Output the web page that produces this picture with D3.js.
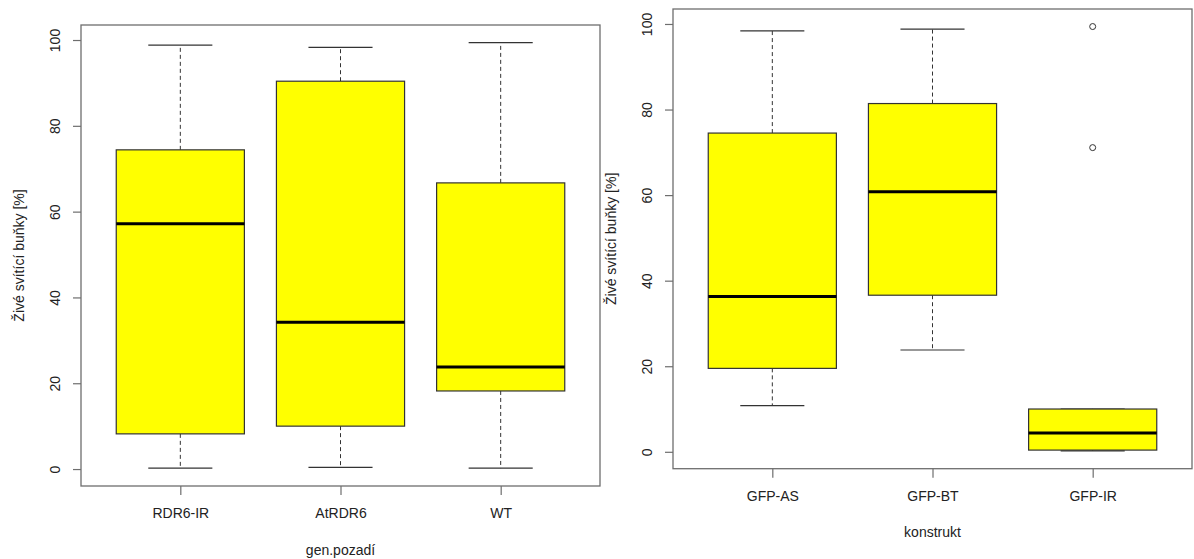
<!DOCTYPE html>
<html>
<head>
<meta charset="utf-8">
<script src="https://cdn.jsdelivr.net/npm/d3@7"></script>
<style>
  html, body { margin: 0; padding: 0; background: #fff; }
  svg { display: block; font-family: "Liberation Sans", Arial, sans-serif; }
</style>
</head>
<body>
<svg id="chart" width="1194" height="559"></svg>
<script>
// ---- data ----
const leftCategories = ["RDR6-IR", "AtRDR6", "WT"];
const leftLow    = [0.2, 0.4, 0.2];
const leftQ1     = [8.2, 10.0, 18.2];
const leftMedian = [57.2, 34.2, 23.8];
const leftQ3     = [74.4, 90.4, 66.7];
const leftHigh   = [98.8, 98.3, 99.4];
const leftOutliers = [[], [], []];

const rightCategories = ["GFP-AS", "GFP-BT", "GFP-IR"];
const rightLow    = [10.8, 23.8, 0.2];
const rightQ1     = [19.5, 36.6, 0.4];
const rightMedian = [36.3, 60.8, 4.4];
const rightQ3     = [74.5, 81.4, 10.0];
const rightHigh   = [98.4, 98.8, 10.0];
const rightOutliers = [[], [], [99.4, 71.1]];

const yTicks = [0, 20, 40, 60, 80, 100];
const yTitle = "Živé svítící buňky [%]";
const leftXTitle = "gen.pozadí";
const rightXTitle = "konstrukt";

// ---- drawing ----
const svg = d3.select("#chart");
const textColor = "#222";
const frameColor = "#6e6e6e";
const lineColor = "#333";

function panel(cfg) {
  const {left, right, top, bottom, cats, low, q1, med, q3, high, outs,
         tickLabelY, xTitleY, yTitleX, xTitle} = cfg;
  const g = svg.append("g");
  const x = d3.scaleLinear().domain([0.38, 3.62]).range([left, right]);
  const y = d3.scaleLinear().domain([-3.95, 103.5]).range([bottom, top]);

  const data = cats.map((c, i) => ({c, i: i + 1, low: low[i], q1: q1[i], med: med[i], q3: q3[i], high: high[i], outs: outs[i]}));
  const bw = 0.4, sw = 0.2;

  const bx = g.selectAll("g.box").data(data).join("g").attr("class", "box");
  // whiskers (dashed)
  bx.append("line")
    .attr("x1", d => x(d.i)).attr("x2", d => x(d.i))
    .attr("y1", d => y(d.q3)).attr("y2", d => y(d.high))
    .attr("stroke", lineColor).attr("stroke-dasharray", "4,3").attr("stroke-width", 1);
  bx.append("line")
    .attr("x1", d => x(d.i)).attr("x2", d => x(d.i))
    .attr("y1", d => y(d.q1)).attr("y2", d => y(d.low))
    .attr("stroke", lineColor).attr("stroke-dasharray", "4,3").attr("stroke-width", 1);
  // staples
  bx.append("line")
    .attr("x1", d => x(d.i - sw)).attr("x2", d => x(d.i + sw))
    .attr("y1", d => y(d.high)).attr("y2", d => y(d.high))
    .attr("stroke", lineColor).attr("stroke-width", 1.2);
  bx.append("line")
    .attr("x1", d => x(d.i - sw)).attr("x2", d => x(d.i + sw))
    .attr("y1", d => y(d.low)).attr("y2", d => y(d.low))
    .attr("stroke", lineColor).attr("stroke-width", 1.2);
  // box
  bx.append("rect")
    .attr("x", d => x(d.i - bw)).attr("width", d => x(d.i + bw) - x(d.i - bw))
    .attr("y", d => y(d.q3)).attr("height", d => y(d.q1) - y(d.q3))
    .attr("fill", "#ffff00").attr("stroke", lineColor).attr("stroke-width", 1.2);
  // median
  bx.append("line")
    .attr("x1", d => x(d.i - bw)).attr("x2", d => x(d.i + bw))
    .attr("y1", d => y(d.med)).attr("y2", d => y(d.med))
    .attr("stroke", "#000").attr("stroke-width", 3);
  // outliers
  bx.selectAll("circle").data(d => d.outs.map(v => ({i: d.i, v}))).join("circle")
    .attr("cx", d => x(d.i)).attr("cy", d => y(d.v)).attr("r", 3)
    .attr("fill", "none").attr("stroke", lineColor).attr("stroke-width", 1);

  // frame
  g.append("rect")
    .attr("x", left).attr("y", top).attr("width", right - left).attr("height", bottom - top)
    .attr("fill", "none").attr("stroke", frameColor).attr("stroke-width", 1.3);

  // y axis
  const ya = g.append("g").attr("transform", `translate(${left},0)`)
    .call(d3.axisLeft(y).tickValues(yTicks).tickSize(8).tickFormat(d3.format("d")));
  ya.select(".domain").remove();
  ya.selectAll(".tick line").attr("stroke", frameColor).attr("stroke-width", 1.2);
  ya.selectAll(".tick text")
    .attr("x", 0).attr("y", -26).attr("dy", null)
    .attr("transform", "rotate(-90)")
    .attr("text-anchor", "middle").attr("dominant-baseline", "central")
    .attr("fill", textColor).style("font-size", "14px")
    .style("font-family", "'Liberation Sans', Arial, sans-serif");

  // x axis
  const xa = g.append("g").attr("transform", `translate(0,${bottom})`)
    .call(d3.axisBottom(x).tickValues([1, 2, 3]).tickSize(9).tickFormat(d => cats[d - 1]));
  xa.select(".domain").remove();
  xa.selectAll(".tick line").attr("stroke", frameColor).attr("stroke-width", 1.2);
  xa.selectAll(".tick text")
    .attr("y", tickLabelY - bottom).attr("dy", null)
    .attr("dominant-baseline", "central")
    .attr("fill", textColor).style("font-size", "14px")
    .style("font-family", "'Liberation Sans', Arial, sans-serif");

  // titles
  g.append("text")
    .attr("x", (left + right) / 2).attr("y", xTitleY)
    .attr("text-anchor", "middle").attr("dominant-baseline", "central")
    .attr("fill", textColor).style("font-size", "14px").text(xTitle);
  g.append("text")
    .attr("transform", `translate(${yTitleX},${(top + bottom) / 2}) rotate(-90)`)
    .attr("text-anchor", "middle").attr("dominant-baseline", "central")
    .attr("fill", textColor).style("font-size", "14px").text(yTitle);
}

panel({left: 81, right: 600, top: 25, bottom: 486,
       cats: leftCategories, low: leftLow, q1: leftQ1, med: leftMedian, q3: leftQ3, high: leftHigh, outs: leftOutliers,
       tickLabelY: 513, xTitleY: 550, yTitleX: 19, xTitle: leftXTitle});
panel({left: 673, right: 1192, top: 9, bottom: 468.7,
       cats: rightCategories, low: rightLow, q1: rightQ1, med: rightMedian, q3: rightQ3, high: rightHigh, outs: rightOutliers,
       tickLabelY: 496, xTitleY: 532, yTitleX: 611, xTitle: rightXTitle});
</script>
</body>
</html>
